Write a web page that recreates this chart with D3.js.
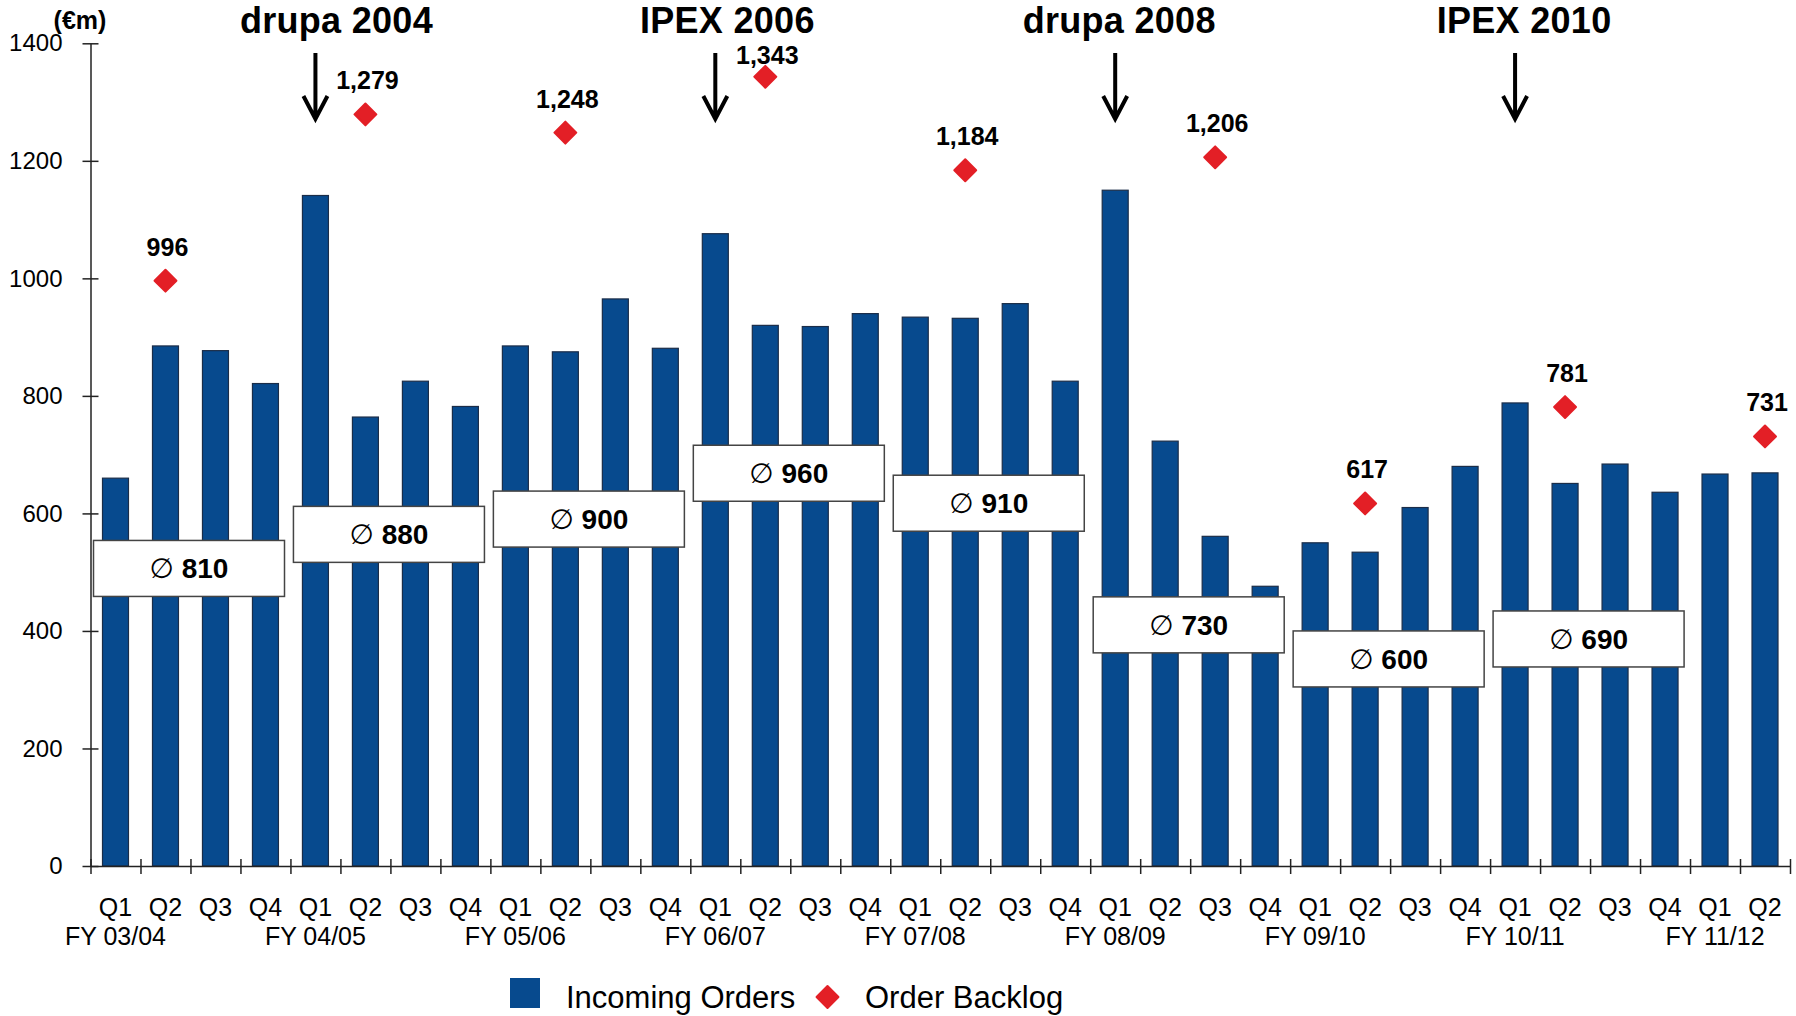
<!DOCTYPE html>
<html>
<head>
<meta charset="utf-8">
<script src="https://cdn.jsdelivr.net/npm/d3@7"></script>
<style>
  html, body { margin: 0; padding: 0; background: #fff; }
  svg { display: block; font-family: "Liberation Sans", Arial, Helvetica, sans-serif; }
</style>
</head>
<body>
<svg id="chart" width="1796" height="1016"></svg>
<script>
// ---- Data (€m) ----
const fiscalYears = ["FY 03/04", "FY 04/05", "FY 05/06", "FY 06/07", "FY 07/08",
                     "FY 08/09", "FY 09/10", "FY 10/11", "FY 11/12"];
const quarterNames = ["Q1", "Q2", "Q3", "Q4"];

// Incoming orders per quarter, FY 03/04 Q1 .. FY 11/12 Q2
const incomingOrders = [
  660, 885, 877, 821,
  1141, 764, 825, 782,
  885, 875, 965, 881,
  1076, 920, 918, 940,
  934, 932, 957, 825,
  1150, 723, 561, 476,
  550, 534, 610, 680,
  788, 651, 684, 636,
  667, 669
];

// Order backlog at selected quarter ends
const backlogPeriods = ["FY 03/04 Q2", "FY 04/05 Q2", "FY 05/06 Q2", "FY 06/07 Q2", "FY 07/08 Q2",
                        "FY 08/09 Q3", "FY 09/10 Q2", "FY 10/11 Q2", "FY 11/12 Q2"];
const orderBacklog = [996, 1279, 1248, 1343, 1184, 1206, 617, 781, 731];

// Average quarterly incoming orders per fiscal year
const yearAverages = [810, 880, 900, 960, 910, 730, 600, 690];

// Trade fairs
const eventNames = ["drupa 2004", "IPEX 2006", "drupa 2008", "IPEX 2010"];
const eventPeriods = ["FY 04/05 Q1", "FY 06/07 Q1", "FY 08/09 Q1", "FY 10/11 Q1"];

const yTicks = [0, 200, 400, 600, 800, 1000, 1200, 1400];

// ---- Layout ----
const plot = { left: 90.5, right: 1790, top: 43.3, bottom: 866 };
// vertical placement of the average boxes (top edge, in axis units)
const avgBoxLevel = [554, 612, 638, 716, 665, 458, 400, 434];
// horizontal nudge of each fair title relative to its arrow
const eventTitleShift = [21, 12, 4, 9];
// distance from each backlog marker to the baseline of its value label
const backlogLabelGap = [25, 25, 25, 13, 25, 25, 25, 25, 25];

const colors = { bar: "#074a8e", barEdge: "#1b2d48", backlog: "#e31f26", axis: "#222", text: "#000" };

const svg = d3.select("#chart");

const periods = fiscalYears
  .flatMap(fy => quarterNames.map(q => fy + " " + q))
  .slice(0, incomingOrders.length);

const x = d3.scaleBand()
  .domain(periods)
  .range([plot.left, plot.right])
  .paddingInner(0.48)
  .paddingOuter(0.24);

// slot boundaries between quarters
const xSlots = d3.scaleLinear().domain([0, periods.length]).range([plot.left, plot.right]);

const y = d3.scaleLinear().domain([0, 1400]).range([plot.bottom, plot.top]);

const cx = p => x(p) + x.bandwidth() / 2;

// ---- Bars ----
svg.append("g")
  .selectAll("rect")
  .data(periods.map((p, i) => ({ p, v: incomingOrders[i] })))
  .join("rect")
  .attr("x", d => x(d.p))
  .attr("y", d => y(d.v))
  .attr("width", x.bandwidth())
  .attr("height", d => y(0) - y(d.v))
  .attr("fill", colors.bar)
  .attr("stroke", colors.barEdge)
  .attr("stroke-width", 1.2);

// ---- Y axis ----
const yAxis = svg.append("g")
  .attr("transform", `translate(${plot.left},0)`)
  .call(d3.axisLeft(y).tickValues(yTicks).tickFormat(d3.format("d"))
    .tickSize(8).tickSizeOuter(0).tickPadding(20));
yAxis.select(".domain").attr("stroke", colors.axis).attr("stroke-width", 1.5);
yAxis.selectAll(".tick line").attr("x1", 8).attr("stroke", colors.axis).attr("stroke-width", 1.5);
yAxis.selectAll(".tick text")
  .attr("font-family", "Liberation Sans, Arial, sans-serif")
  .attr("font-size", 24)
  .attr("fill", colors.text);

svg.append("text")
  .attr("x", 80).attr("y", 29)
  .attr("text-anchor", "middle")
  .attr("font-size", 25).attr("font-weight", "bold")
  .attr("fill", colors.text)
  .text("(€m)");

// ---- X axis ----
const xAxis = svg.append("g")
  .attr("transform", `translate(0,${plot.bottom})`)
  .call(d3.axisBottom(xSlots).tickValues(d3.range(0, periods.length + 1))
    .tickSize(8).tickSizeOuter(0).tickFormat(""));
xAxis.select(".domain").attr("stroke", colors.axis).attr("stroke-width", 1.5);
xAxis.selectAll(".tick line").attr("y1", -7).attr("stroke", colors.axis).attr("stroke-width", 1.5);

svg.append("g")
  .selectAll("text")
  .data(periods)
  .join("text")
  .attr("x", d => cx(d))
  .attr("y", 916)
  .attr("text-anchor", "middle")
  .attr("font-size", 25)
  .attr("fill", colors.text)
  .text(d => d.split(" ").pop());

svg.append("g")
  .selectAll("text")
  .data(fiscalYears)
  .join("text")
  .attr("x", d => cx(d + " Q1"))
  .attr("y", 945)
  .attr("text-anchor", "middle")
  .attr("font-size", 25)
  .attr("fill", colors.text)
  .text(d => d);

// ---- Fiscal-year average boxes ----
const boxW = 191, boxH = 56;
const avgG = svg.append("g")
  .selectAll("g")
  .data(yearAverages.map((v, i) => ({ v, i })))
  .join("g")
  .attr("transform", d => `translate(${xSlots(d.i * 4) + 3},${y(avgBoxLevel[d.i])})`);
avgG.append("rect")
  .attr("width", boxW).attr("height", boxH)
  .attr("fill", "#fff")
  .attr("stroke", "#444").attr("stroke-width", 1.5);
const avgText = avgG.append("text")
  .attr("x", boxW / 2).attr("y", 38)
  .attr("text-anchor", "middle")
  .attr("font-size", 28)
  .attr("fill", colors.text);
avgText.append("tspan")
  .attr("font-family", "DejaVu Sans, sans-serif")
  .attr("font-weight", "normal")
  .text("∅");
avgText.append("tspan")
  .attr("font-weight", "bold")
  .text(d => "\u00a0" + d.v);

// ---- Order backlog diamonds ----
const diamond = d3.symbol().type(d3.symbolSquare).size(240)();
const fmt = d3.format(",");
const backlogG = svg.append("g")
  .selectAll("g")
  .data(backlogPeriods.map((p, i) => ({ p, v: orderBacklog[i], i })))
  .join("g")
  .attr("transform", d => `translate(${cx(d.p)},${y(d.v)})`);
backlogG.append("path")
  .attr("d", diamond)
  .attr("transform", "rotate(45)")
  .attr("fill", colors.backlog)
  .attr("stroke", colors.backlog)
  .attr("stroke-width", 2)
  .attr("stroke-linejoin", "round");
backlogG.append("text")
  .attr("x", 2).attr("y", d => -backlogLabelGap[d.i])
  .attr("text-anchor", "middle")
  .attr("font-size", 25).attr("font-weight", "bold")
  .attr("fill", colors.text)
  .text(d => fmt(d.v));

// ---- Trade fair markers ----
const evG = svg.append("g")
  .selectAll("g")
  .data(eventNames.map((n, i) => ({ n, p: eventPeriods[i], i })))
  .join("g")
  .attr("transform", d => `translate(${cx(d.p)},0)`);
evG.append("text")
  .attr("x", d => eventTitleShift[d.i]).attr("y", 33)
  .attr("text-anchor", "middle")
  .attr("font-size", 36).attr("font-weight", "bold")
  .attr("letter-spacing", 0.3)
  .attr("fill", colors.text)
  .text(d => d.n);
evG.append("path")
  .attr("d", "M0,53 L0,119 M-12,96 L0,119 L12,96")
  .attr("fill", "none")
  .attr("stroke", "#000")
  .attr("stroke-width", 4)
  .attr("stroke-linejoin", "miter");

// ---- Legend ----
const lg = svg.append("g");
lg.append("rect")
  .attr("x", 510).attr("y", 978).attr("width", 30).attr("height", 30)
  .attr("fill", colors.bar);
lg.append("text")
  .attr("x", 566).attr("y", 1008)
  .attr("font-size", 31).attr("fill", colors.text)
  .text("Incoming Orders");
lg.append("path")
  .attr("d", diamond)
  .attr("transform", "translate(827.5,997) rotate(45)")
  .attr("fill", colors.backlog)
  .attr("stroke", colors.backlog)
  .attr("stroke-width", 2)
  .attr("stroke-linejoin", "round");
lg.append("text")
  .attr("x", 865).attr("y", 1008)
  .attr("font-size", 31).attr("fill", colors.text)
  .text("Order Backlog");
</script>
</body>
</html>
